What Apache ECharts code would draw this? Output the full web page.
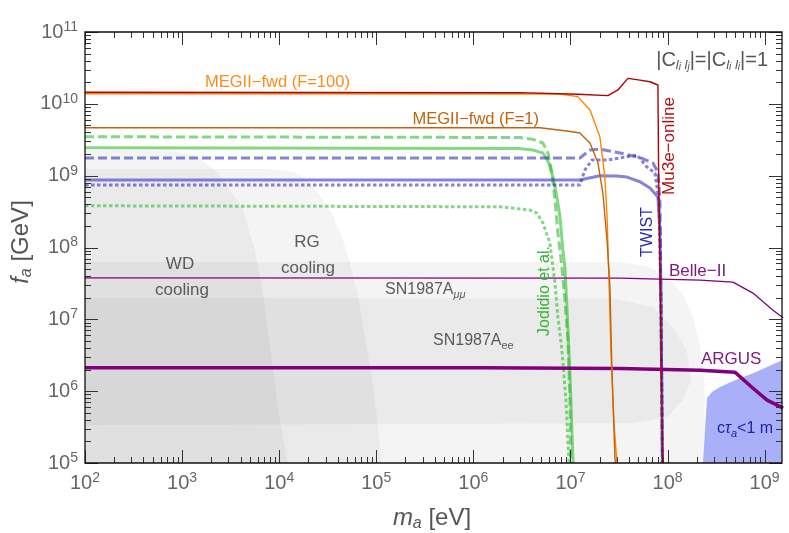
<!DOCTYPE html>
<html><head><meta charset="utf-8">
<script src="https://cdn.jsdelivr.net/npm/echarts@6/dist/echarts.min.js"></script>
<style>html,body{margin:0;padding:0;background:#fff}#c{width:789px;height:533px}</style>
</head><body><div id="c"></div>
<script>
// ---- axes ----
const X_MIN = 100, X_MAX = 1.51e9, Y_MIN = 1e5, Y_MAX = 1e11;
const xMajorTicks = [1e2, 1e3, 1e4, 1e5, 1e6, 1e7, 1e8, 1e9];
const yMajorTicks = [1e5, 1e6, 1e7, 1e8, 1e9, 1e10, 1e11];

// ---- limit curves: [m_a (eV), f_a (GeV)] ----
const mu3eOnline = [[1e2,1.45e10],[3e6,1.43e10],[1.19e7,1.36e10],[2.43e7,1.3e10],[3.08e7,1.56e10],[3.91e7,2.26e10],[5.2e7,2.14e10],[6.6e7,2.03e10],[7.96e7,1.83e10],[8.1e7,1e9],[8.45e7,1.85e7],[8.9e7,1e5]];
const megiiF100 = [[1e2,1.38e10],[7.8e6,1.37e10],[1.19e7,1.26e10],[1.59e7,8.2e9],[2.01e7,3.48e9],[2.26e7,9.55e8],[2.38e7,2.83e8],[2.46e7,6.7e7],[2.61e7,3.7e6],[2.8e7,3.9e5],[3.01e7,1e5]];
const megiiF1 = [[1e2,4.65e9],[4.85e6,4.65e9],[9.2e6,4.18e9],[1.25e7,3.92e9],[1.59e7,2.84e9],[1.92e7,1.5e9],[2.16e7,5.7e8],[2.38e7,1.27e8],[2.55e7,2.8e7],[2.67e7,2.16e6],[2.87e7,1.2e5],[2.9e7,1e5]];
const jodidioDashed = [[1e2,3.48e9],[3.02e6,3.4e9],[4.11e6,3.2e9],[5.21e6,2.85e9],[5.87e6,2.07e9],[6.45e6,1.09e9],[6.92e6,4.57e8],[7.43e6,1.59e8],[8.17e6,5.33e7],[8.77e6,1.85e7],[9.41e6,5.13e6],[9.88e6,7.5e5],[1.01e7,1e5]];
const jodidioSolid = [[1e2,2.45e9],[3.02e6,2.38e9],[4.11e6,2.27e9],[5.21e6,2.07e9],[6.0e6,1.5e9],[6.6e6,9.55e8],[7.26e6,5.04e8],[7.8e6,2.65e8],[8.37e6,9.2e7],[8.77e6,5.33e7],[9.2e6,1.48e7],[9.88e6,1.78e6],[1.06e7,1.2e5],[1.07e7,1e5]];
const jodidioDotted = [[1e2,3.81e8],[1.88e6,3.69e8],[3.83e6,3.32e8],[4.52e6,3.01e8],[5.21e6,2.19e8],[6.15e6,1.15e8],[6.92e6,3.19e7],[7.43e6,1.07e7],[8.17e6,3.72e6],[8.99e6,7.5e5],[9.66e6,1e5]];
const twistDashed = [[1e2,1.76e9],[1.25e7,1.76e9],[1.59e7,2.28e9],[2.01e7,2.35e9],[3.24e7,2.07e9],[5.2e7,1.79e9],[7.08e7,1.5e9],[7.96e7,1.12e9],[8.35e7,4.57e8],[8.56e7,1.85e7],[8.86e7,1e5]];
const twistDotted = [[1e2,7.4e8],[1.25e7,7.4e8],[1.41e7,1.2e9],[1.66e7,1.65e9],[2.38e7,1.65e9],[3.24e7,1.76e9],[4.84e7,1.94e9],[6.14e7,1.32e9],[7.42e7,1.09e9],[8.15e7,4.57e8],[8.56e7,1.85e7],[8.86e7,1e5]];
const twistSolid = [[1e2,8.69e8],[1.25e7,8.69e8],[2.01e7,1.0e9],[3.01e7,9.87e8],[3.82e7,9.55e8],[5.2e7,8.22e8],[6.6e7,6.72e8],[7.96e7,5.04e8],[8.35e7,1.75e8],[8.56e7,1.85e7],[8.86e7,1e5]];
const belle2 = [[1e2,3.78e7],[3.24e7,3.75e7],[2.16e8,3.52e7],[4.72e8,3.3e7],[7.59e8,2.32e7],[1.22e9,1.34e7],[1.55e9,1.05e7]];
const argus = [[1e2,2.12e6],[1.17e6,2.11e6],[3.24e7,2.06e6],[2.16e8,1.96e6],[4.94e8,1.84e6],[7.59e8,1.1e6],[1.06e9,7.5e5],[1.55e9,5.8e5]];

// ---- excluded regions (polygons) ----
const wdCooling = [[1e2,2.28e9],[467,2.28e9],[845,2.17e9],[1359,1.94e9],[2344,1.09e9],[4140,3.66e8],[5636,9.2e7],[6970,1.85e7],[8430,2.7e6],[1.02e4,3.95e5],[1.23e4,1e5],[1e2,1e5]];
const rgCooling = [[1e2,1.24e9],[8040,1.24e9],[1.29e4,1.16e9],[1.76e4,9.55e8],[2.18e4,7.16e8],[2.76e4,4.88e8],[3.58e4,2.83e8],[4.54e4,1.27e8],[5.36e4,6.07e7],[6.48e4,2.17e7],[7.47e4,7.08e6],[8.61e4,2.3e6],[9.7e4,7.5e5],[1.07e5,2.44e5],[1.12e5,1e5],[1e2,1e5]];
const snMuMu = [[1e2,6.27e7],[3.24e7,6.27e7],[6.14e7,5.51e7],[9.86e7,4.0e7],[1.41e8,2.32e7],[1.83e8,1.07e7],[2.16e8,4.38e6],[2.37e8,1.67e6],[2.43e8,7.5e5],[2.37e8,1e5],[1e2,1e5]];
const snEE = [[1e2,1.97e7],[2.74e7,1.97e7],[7.08e7,1.48e7],[1.14e8,7.78e6],[1.58e8,3.72e6],[1.74e8,1.42e6],[1.44e8,7.5e5],[9.86e7,4.35e5],[4.4e7,3.58e5],[1e2,3.36e5]];
const ctauRegion = [[2.32e8,1e5],[2.43e8,2.87e5],[2.55e8,8.04e5],[2.87e8,9.7e5],[3.47e8,1.14e6],[4.94e8,1.42e6],[7.59e8,1.78e6],[1.51e9,2.7e6],[1.51e9,1e5]];

const FONT = 'Liberation Sans, Arial, sans-serif';
const minorOf = majors => {
  const out = [];
  majors.forEach(v => { for (let k = 2; k <= 9; k++) out.push(v * k); });
  return out;
};

function polygon(name, pts, fill, z) {
  return {
    type: 'custom', name, coordinateSystem: 'cartesian2d', silent: true, z,
    data: [pts[0]], animation: false,
    renderItem: (p, api) => ({ type: 'polygon', shape: { points: pts.map(q => api.coord(q)) }, style: { fill } })
  };
}
function line(name, data, color, width, dash, z) {
  return {
    type: 'line', name, data, symbol: 'none', showSymbol: false, silent: true, z, animation: false,
    lineStyle: { color, width, type: dash || 'solid', cap: 'butt', join: 'round' }
  };
}

const frameSeries = {
  type: 'custom', coordinateSystem: 'cartesian2d', silent: true, z: 20, animation: false,
  data: [[1e3, 1e6]],
  renderItem: (p, api) => {
    const bl = api.coord([X_MIN, Y_MIN]), tr = api.coord([X_MAX, Y_MAX]);
    const L = bl[0], B = bl[1], R = tr[0], T = tr[1];
    let d = '';
    const xs = xMajorTicks.map(v => [v, 13]).concat(minorOf(xMajorTicks).map(v => [v, 6]));
    xs.forEach(([v, len]) => {
      if (v < X_MIN || v > X_MAX) return;
      const x = Math.round(api.coord([v, Y_MIN])[0]) + 0.5;
      d += `M${x} ${B}L${x} ${B - len}M${x} ${T}L${x} ${T + len}`;
    });
    const ys = yMajorTicks.map(v => [v, 13]).concat(minorOf(yMajorTicks).map(v => [v, 6]));
    ys.forEach(([v, len]) => {
      if (v < Y_MIN || v > Y_MAX) return;
      const y = Math.round(api.coord([X_MIN, v])[1]) + 0.5;
      d += `M${L} ${y}L${L + len} ${y}M${R} ${y}L${R - len} ${y}`;
    });
    return { type: 'group', children: [
      { type: 'path', shape: { pathData: d }, style: { fill: null, stroke: '#333', lineWidth: 1 } },
      { type: 'rect', shape: { x: L, y: T, width: R - L, height: B - T }, style: { fill: null, stroke: '#111', lineWidth: 1.3 } }
    ] };
  }
};

const powLabel = v => {
  const e = Math.log10(v), r = Math.round(e);
  if (Math.abs(e - r) > 1e-6) return '';
  return '{b|10}{s|' + r + '}';
};
const tickRich = {
  b: { fontSize: 20, color: '#666', fontFamily: FONT, lineHeight: 24 },
  s: { fontSize: 14, color: '#666', fontFamily: FONT, lineHeight: 13, verticalAlign: 'top' }
};

const gray = 'rgba(0,0,0,0.045)';
const GRN = 'rgba(50,190,50,0.6)', BLU = 'rgba(50,50,190,0.6)';

const txt = (x, y, text, fill, size, extra) => Object.assign({
  type: 'text', x, y, silent: true, z: 30,
  style: Object.assign({ text, fill, font: size + 'px ' + FONT, textVerticalAlign: 'middle', textAlign: 'left' }, extra && extra.style)
}, extra && extra.el);

const chart = echarts.init(document.getElementById('c'), null, { renderer: 'canvas' });
chart.setOption({
  animation: false,
  textStyle: { fontFamily: FONT },
  grid: { left: 85, right: 7, top: 32, bottom: 70, containLabel: false, outerBoundsMode: 'none' },
  xAxis: {
    type: 'log', logBase: 10, min: X_MIN, max: X_MAX, splitNumber: 7,
    axisLine: { show: false }, axisTick: { show: false }, splitLine: { show: false }, minorTick: { show: false },
    axisLabel: { formatter: powLabel, rich: tickRich, margin: 8, showMaxLabel: false, hideOverlap: false }
  },
  yAxis: {
    type: 'log', logBase: 10, min: Y_MIN, max: Y_MAX, splitNumber: 6,
    axisLine: { show: false }, axisTick: { show: false }, splitLine: { show: false }, minorTick: { show: false },
    axisLabel: { formatter: powLabel, rich: tickRich, margin: 7, hideOverlap: false }
  },
  series: [
    polygon('WD cooling', wdCooling, gray, 1),
    polygon('RG cooling', rgCooling, gray, 1),
    polygon('SN1987A mumu', snMuMu, gray, 1),
    polygon('SN1987A ee', snEE, gray, 1),
    polygon('ctau<1m', ctauRegion, '#aab0f7', 2),
    line('Jodidio dashed', jodidioDashed, GRN, 3, [9, 4], 3),
    line('Jodidio solid', jodidioSolid, GRN, 3, 'solid', 3),
    line('Jodidio dotted', jodidioDotted, GRN, 3, [3.5, 2.5], 3),
    line('TWIST dashed', twistDashed, BLU, 3, [9, 4], 4),
    line('TWIST dotted', twistDotted, BLU, 3, [3.5, 2.5], 4),
    line('TWIST solid', twistSolid, BLU, 3, 'solid', 4),
    line('Belle-II', belle2, '#800080', 1.3, 'solid', 5),
    line('ARGUS', argus, '#800080', 3.5, 'solid', 5),
    line('MEGII-fwd F=100', megiiF100, '#ff8400', 1.4, 'solid', 6),
    line('MEGII-fwd F=1', megiiF1, '#c0640c', 1.4, 'solid', 6),
    line('Mu3e-online', mu3eOnline, '#b00000', 1.4, 'solid', 7),
    frameSeries
  ],
  graphic: [
    txt(205, 82, 'MEGII\u2212fwd (F=100)', '#ff8a1c', 16.5),
    txt(539, 119, 'MEGII\u2212fwd (F=1)', '#c0640c', 16.5, { style: { textAlign: 'right' } }),
    txt(768, 60, '', '#555', 20, { style: {
      text: '{n||C}{s|l}{ss|i}{s| l}{ss|j}{n||=|C}{s|l}{ss|i}{s| l}{ss|i}{n||=1}', textAlign: 'right',
      rich: {
        n: { fontSize: 20, fontFamily: FONT, fill: '#555', lineHeight: 24 },
        s: { fontSize: 13, fontFamily: FONT, fontStyle: 'italic', fill: '#555', lineHeight: 12, verticalAlign: 'bottom' },
        ss: { fontSize: 10, fontFamily: FONT, fontStyle: 'italic', fill: '#555', lineHeight: 6, verticalAlign: 'bottom' }
      } } }),
    txt(180, 264, 'WD', '#5a5a5a', 17, { style: { textAlign: 'center' } }),
    txt(182, 290, 'cooling', '#5a5a5a', 17, { style: { textAlign: 'center' } }),
    txt(307, 242, 'RG', '#5a5a5a', 17, { style: { textAlign: 'center' } }),
    txt(308, 268, 'cooling', '#5a5a5a', 17, { style: { textAlign: 'center' } }),
    txt(385, 290, '', '#5a5a5a', 16, { style: {
      text: '{n|SN1987A}{s|\u03bc\u03bc}',
      rich: { n: { fontSize: 16, fontFamily: FONT, fill: '#5a5a5a', lineHeight: 20 },
              s: { fontSize: 11, fontFamily: FONT, fontStyle: 'italic', fill: '#5a5a5a', lineHeight: 12, verticalAlign: 'bottom' } } } }),
    txt(433, 341, '', '#5a5a5a', 16, { style: {
      text: '{n|SN1987A}{s|ee}',
      rich: { n: { fontSize: 16, fontFamily: FONT, fill: '#5a5a5a', lineHeight: 20 },
              s: { fontSize: 11, fontFamily: FONT, fill: '#5a5a5a', lineHeight: 12, verticalAlign: 'bottom' } } } }),
    txt(545, 291, 'Jodidio et al.', '#33b333', 16, { style: { textAlign: 'center' }, el: { rotation: Math.PI / 2 } }),
    txt(648, 232, 'TWIST', '#2a2ab0', 16, { style: { textAlign: 'center' }, el: { rotation: Math.PI / 2 } }),
    txt(669, 146, 'Mu3e\u2212online', '#b01010', 17, { style: { textAlign: 'center' }, el: { rotation: Math.PI / 2 } }),
    txt(669, 271, 'Belle\u2212II', '#801a80', 17),
    txt(701, 359, 'ARGUS', '#801a80', 17),
    txt(745, 429, '', '#2020a8', 16, { style: {
      text: '{n|c}{i|\u03c4}{s|a}{n|<1 m}', textAlign: 'center',
      rich: { n: { fontSize: 16, fontFamily: FONT, fill: '#2020a8', lineHeight: 20 },
              i: { fontSize: 16, fontFamily: FONT, fontStyle: 'italic', fill: '#2020a8', lineHeight: 20 },
              s: { fontSize: 11, fontFamily: FONT, fontStyle: 'italic', fill: '#2020a8', lineHeight: 12, verticalAlign: 'bottom' } } } }),
    txt(21, 242, '', '#555', 24, { style: {
      text: '{i|f}{s|a}{n| [GeV]}', textAlign: 'center',
      rich: { n: { fontSize: 24, fontFamily: FONT, fill: '#555', lineHeight: 28 },
              i: { fontSize: 24, fontFamily: FONT, fontStyle: 'italic', fill: '#555', lineHeight: 28 },
              s: { fontSize: 16, fontFamily: FONT, fontStyle: 'italic', fill: '#555', lineHeight: 16, verticalAlign: 'bottom' } } },
      el: { rotation: Math.PI / 2 } }),
    txt(432, 518, '', '#555', 24, { style: {
      text: '{i|m}{s|a}{n| [eV]}', textAlign: 'center',
      rich: { n: { fontSize: 24, fontFamily: FONT, fill: '#555', lineHeight: 28 },
              i: { fontSize: 24, fontFamily: FONT, fontStyle: 'italic', fill: '#555', lineHeight: 28 },
              s: { fontSize: 16, fontFamily: FONT, fontStyle: 'italic', fill: '#555', lineHeight: 16, verticalAlign: 'bottom' } } } })
  ]
});
</script></body></html>
